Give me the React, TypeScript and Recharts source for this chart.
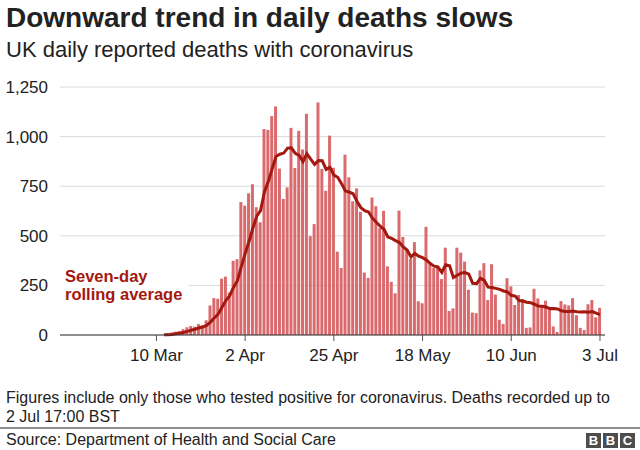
import { ComposedChart, Bar, Line, XAxis, YAxis, CartesianGrid } from "recharts";

// days are counted from 10 Mar; the first bar is 12 Mar
const firstDay = 2;

// UK daily reported deaths, 12 Mar - 3 Jul
const deaths = [
  2, 8, 13, 17, 20, 29, 39, 45, 42, 55, 49, 74, 149, 186, 183, 284, 294, 214, 374, 382,
  670, 652, 714, 760, 644, 568, 1038, 1034, 1103, 1152, 839, 686, 744, 1044, 842, 1029, 935, 1115,
  498, 559, 1172, 837, 727, 1005, 843, 420, 338, 909, 795, 674,
  739, 621, 315, 288, 693, 649, 539, 626, 346, 268, 210, 627, 494, 428, 384, 468, 170, 160, 545,
  363, 338, 351, 282, 440, 121, 134, 440, 415, 370, 228, 113,
  110, 326, 362, 176, 357, 204, 77, 55, 286, 245, 151, 202, 181, 36, 38, 233, 184, 140, 173, 128,
  43, 15, 171, 154, 149, 186, 100, 36, 25, 155,
  176, 89, 137,
];

// seven-day rolling average, same days
const rollingAverage = [
  1, 1, 3, 6, 9, 13, 18, 24, 29, 35, 40, 48, 65, 86, 105, 140, 174, 198, 241, 274,
  343, 410, 471, 538, 599, 627, 721, 773, 837, 900, 911, 917, 942, 943, 916, 905, 874, 914,
  887, 860, 879, 878, 835, 845, 806, 795, 763, 726, 720, 712,
  674, 642, 627, 620, 589, 568, 549, 533, 494, 487, 476, 466, 444, 428, 394, 411, 397, 390, 378,
  360, 347, 342, 316, 354, 349, 290, 301, 312, 315, 307, 260,
  259, 286, 275, 241, 239, 235, 230, 222, 217, 200, 196, 174, 171, 165, 163, 155, 146, 145, 141, 133,
  134, 131, 122, 118, 119, 121, 117, 116, 117, 115,
  118, 110, 103,
];

const tickDays = [0, 23, 46, 69, 92, 115];
const tickLabels = ["10 Mar", "2 Apr", "25 Apr", "18 May", "10 Jun", "3 Jul"];
const yTicks = [0, 250, 500, 750, 1000, 1250];

const data = deaths.map((value, i) => ({
  day: firstDay + i,
  deaths: value,
  avg: rollingAverage[i],
}));

const font = '"Liberation Sans", Arial, Helvetica, sans-serif';
const textColor = "#222222";
const lineRed = "#a3180f";

const bbcBox = (left: number, letter: string) => (
  <div
    style={{
      position: "absolute",
      left,
      top: 433,
      width: 15,
      height: 15,
      background: "#4d4d4d",
      color: "#fff",
      fontWeight: 700,
      fontSize: 13,
      lineHeight: "15px",
      textAlign: "center",
    }}
  >
    {letter}
  </div>
);

export default function App() {
  return (
    <div
      style={{
        position: "absolute",
        left: 0,
        top: 0,
        width: 640,
        height: 450,
        background: "#fff",
        fontFamily: font,
        color: textColor,
        overflow: "hidden",
      }}
    >
      <div style={{ position: "absolute", left: 6, top: 4, fontSize: 28, fontWeight: 700, lineHeight: 1, whiteSpace: "nowrap" }}>
        Downward trend in daily deaths slows
      </div>
      <div style={{ position: "absolute", left: 6, top: 39, fontSize: 22, lineHeight: 1, whiteSpace: "nowrap" }}>
        UK daily reported deaths with coronavirus
      </div>

      <div style={{ position: "absolute", left: 0, top: 0 }}>
        <ComposedChart
          width={640}
          height={380}
          data={data}
          margin={{ top: 87, right: 35, left: 0, bottom: 15 }}
        >
          <CartesianGrid vertical={false} stroke="#dadada" strokeWidth={1} />
          <XAxis
            dataKey="day"
            type="number"
            domain={[-25, 116.3]}
            ticks={tickDays}
            tickFormatter={(v) => tickLabels[tickDays.indexOf(v)] ?? ""}
            axisLine={{ stroke: "#333333", strokeWidth: 1 }}
            tickLine={{ stroke: "#555555" }}
            tickSize={6}
            tickMargin={8}
            height={30}
            tick={{ fill: textColor, fontSize: 17, fontFamily: font }}
            interval={0}
          />
          <YAxis
            type="number"
            domain={[0, 1250]}
            ticks={yTicks}
            width={60}
            axisLine={false}
            tickLine={false}
            tickSize={0}
            tickMargin={12}
            tickFormatter={(v) => v.toLocaleString("en-GB")}
            tick={{ fill: textColor, fontSize: 17, fontFamily: font }}
          />
          <Bar dataKey="deaths" fill="#da6a6d" barSize={3} isAnimationActive={false} />
          <Line
            dataKey="avg"
            type="linear"
            stroke={lineRed}
            strokeWidth={3}
            dot={false}
            activeDot={false}
            isAnimationActive={false}
          />
        </ComposedChart>
      </div>

      <div
        style={{
          position: "absolute",
          left: 60,
          top: 265,
          width: 129,
          height: 41,
          background: "#fff",
        }}
      />
      <div
        style={{
          position: "absolute",
          left: 65,
          top: 267,
          fontSize: 16.5,
          fontWeight: 700,
          lineHeight: "18px",
          color: lineRed,
          whiteSpace: "nowrap",
        }}
      >
        Seven-day
        <br />
        rolling average
      </div>

      <div style={{ position: "absolute", left: 6, top: 388, fontSize: 16, lineHeight: "19px", width: 634, whiteSpace: "nowrap" }}>
        Figures include only those who tested positive for coronavirus. Deaths recorded up to
        <br />2 Jul 17:00 BST
      </div>

      <div style={{ position: "absolute", left: 0, top: 427, width: 640, height: 2, background: "#8f8f8f" }} />
      <div style={{ position: "absolute", left: 6, top: 432, fontSize: 16, lineHeight: 1, whiteSpace: "nowrap" }}>
        Source: Department of Health and Social Care
      </div>
      {bbcBox(586, "B")}
      {bbcBox(603, "B")}
      {bbcBox(620, "C")}
    </div>
  );
}
